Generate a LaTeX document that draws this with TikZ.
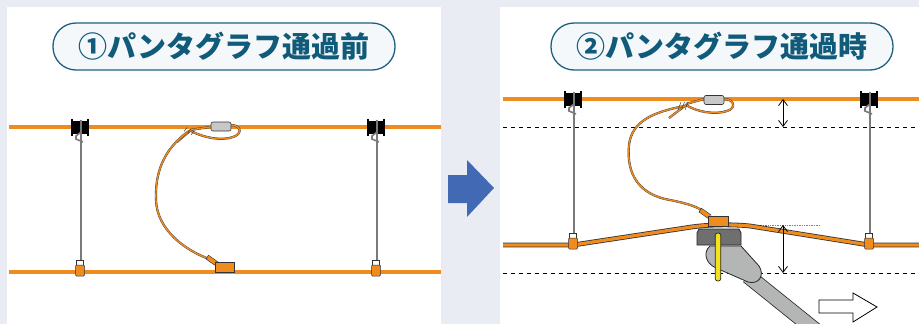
\documentclass[tikz,border=0pt]{standalone}
\usepackage{fontspec}
\newfontfamily\cjk{Noto Sans CJK JP}
\usetikzlibrary{arrows.meta}

\definecolor{pagebg}{HTML}{E9EDF3}
\definecolor{wireorange}{HTML}{EF8C1F}
\definecolor{titleblue}{HTML}{1E6080}
\definecolor{titletext}{HTML}{105A7A}
\definecolor{titlefill}{HTML}{F5F8FA}
\definecolor{hangergray}{HTML}{7A7A7A}
\definecolor{sleevegray}{HTML}{C8C8C8}
\definecolor{shoegray}{HTML}{6F6F6F}
\definecolor{armgray}{HTML}{B4B6B5}
\definecolor{stripyellow}{HTML}{F2E31E}
\definecolor{arrowblue}{HTML}{4169B4}

\begin{document}
\begin{tikzpicture}[
  x=1pt, y=-1pt,
  wire/.style     = {draw=black!80, line width=0.8pt,
                     double=wireorange, double distance=3.2pt},
  feeder/.style   = {draw=black!75, line width=0.4pt,
                     double=wireorange, double distance=1.4pt},
  dropper/.style  = {draw=hangergray, line width=2pt},
  guide/.style    = {draw=black, line width=0.9pt, dash pattern=on 4pt off 4pt},
  titlebox/.style = {draw=titleblue, line width=1.3pt, fill=titlefill,
                     rounded corners=23pt, minimum width=342pt,
                     minimum height=47pt, inner sep=0pt, text=titletext,
                     font=\cjk\bfseries\fontsize{29}{29}\selectfont},
  sleeve/.style   = {draw=black!80, fill=sleevegray, rounded corners=2pt,
                     minimum width=20pt, minimum height=9pt,
                     inner sep=0pt, line width=0.6pt},
  clampbox/.style = {draw=black!80, fill=wireorange, minimum width=20pt,
                     minimum height=10pt, inner sep=0pt, line width=0.6pt},
  gap/.style      = {{Straight Barb[length=6pt,width=9pt]}-{Straight Barb[length=6pt,width=9pt]},
                     line width=0.8pt},
]
\useasboundingbox (0,0) rectangle (919,324);
\fill[pagebg] (0,0) rectangle (919,324);
\fill[white] (7,7) rectangle (441,324);
\fill[white] (500,7) rectangle (919,324);

% titles
\node[titlebox] (titleBefore) at (224,46.5) {①パンタグラフ通過前};
\node[titlebox] (titleDuring) at (722,46.5) {②パンタグラフ通過時};

% reference levels while the pantograph lifts the wire
\draw[guide] (503,127) -- (919,127);
\draw[guide] (503,273) -- (919,273);
\draw[densely dotted, gray, line width=0.7pt] (712,225) -- (820,225);

% droppers
\foreach \hx/\ht/\hb in {80/127/272, 376/127/272, 573/99/245, 869/99/245} {
  \draw[dropper] (\hx+1,\ht+5) -- (\hx+1,\hb-11);
}

% messenger and contact wires
\draw[wire] (9,127) -- (441,127);
\draw[wire] (9,272) -- (441,272);
\draw[wire] (503,99) -- (919,99);
\draw[wire] (503,245) -- (573,245) -- (685,228)
  .. controls (705,224.5) and (730,224) .. (750,226) -- (869,245) -- (919,245);

% hanger clamps
\foreach \hx/\ht/\hb in {80/127/272, 376/127/272, 573/99/245, 869/99/245} {
  \fill[black] (\hx-7,\ht-6) rectangle (\hx+7,\ht+7);
  \fill[black] (\hx-9,\ht-8) rectangle (\hx-7,\ht+9);
  \fill[black] (\hx+7,\ht-8) rectangle (\hx+9,\ht+9);
  \draw[dropper, line width=1.6pt] (\hx+1,\ht-7) -- (\hx+1,\ht+8);
  \draw[dropper, line width=1.6pt] (\hx+1,\ht+5) -- (\hx-4,\ht+9)
    -- (\hx-4,\ht+12) -- (\hx+3,\ht+15);
  \draw[black!80, fill=white, line width=0.5pt]
    (\hx-3.5,\hb-12) rectangle (\hx+3.5,\hb-7);
  \draw[black!80, fill=wireorange, line width=0.5pt, rounded corners=1pt]
    (\hx-4.5,\hb-7) rectangle (\hx+4.5,\hb+4);
}

% feeder before
\draw[feeder] (210,127) -- (190,130);
\draw[feeder] (231,125) .. controls (241,125) and (243,134) .. (233,137)
  .. controls (222,141) and (204,138) .. (191,131);
\draw[feeder] (191,130) -- (177,142);
\draw[feeder] (189,131) .. controls (162,150) and (155,175) .. (156,200)
  .. controls (157,230) and (185,250) .. (209,259);
\foreach \kx in {185,188.5,192} {
  \draw[black!75, line width=0.5pt] (\kx-1,\kx/2+39) -- (\kx+2,\kx/2+35);
}
\node[sleeve] (sleeveBefore) at (221,126.5) {};
\draw[black!80, line width=5pt] (207,257) -- (217,264);
\draw[wireorange, line width=3.8pt] (207.6,257.4) -- (217,264);
\node[clampbox, minimum width=19pt] (clampBefore) at (224.5,267) {};

% feeder during
\draw[feeder] (704,99) -- (686,104);
\draw[feeder] (724,99) .. controls (734,99) and (737,108) .. (727,111)
  .. controls (715,115) and (697,112) .. (686,105);
\draw[feeder] (686,105) -- (669,118);
\draw[feeder] (684,106) .. controls (655,112) and (632,120) .. (629,145)
  .. controls (626,175) and (640,195) .. (670,200)
  .. controls (690,204) and (697,207) .. (703,211);
\foreach \kx in {679,682.5,686} {
  \draw[black!75, line width=0.5pt] (\kx-1,110) -- (\kx+2,102);
}
\node[sleeve] (sleeveDuring) at (714,100) {};
\draw[black!80, line width=5pt] (700,210) -- (710,217);
\draw[wireorange, line width=3.8pt] (700.6,210.4) -- (710,217);
\node[clampbox] (clampDuring) at (718,221) {};

% pantograph
\draw[draw=black!85, line width=0.8pt, double=armgray, double distance=14pt]
  (748,276) -- (845,354);
\draw[draw=black!85, fill=armgray, line width=0.8pt]
  (710,246) -- (741,246) -- (759,266)
  .. controls (765,275) and (759,285) .. (748,282) -- (716,268)
  .. controls (705,263) and (703,252) .. (710,246) -- cycle;
\draw[draw=black!85, fill=shoegray, line width=0.8pt]
  (699,229) -- (739,229) -- (741,233) -- (741,245) -- (697,245)
  -- (697,233) -- cycle;
\node[draw=black!85, fill=stripyellow, rounded corners=2.5pt, line width=0.7pt,
      minimum width=5.5pt, minimum height=48pt, inner sep=0pt]
  (strip) at (718,257) {};

% gaps
\draw[gap] (783,99) -- (783,127);
\draw[gap] (783,225) -- (783,273);

% arrows
\fill[arrowblue] (448,175) -- (467,175) -- (467,160) -- (494,188)
  -- (467,217) -- (467,203) -- (448,203) -- cycle;
\draw[black, fill=white, line width=0.8pt] (819,300) -- (853,300)
  -- (853,293) -- (877,307) -- (853,322) -- (853,313) -- (819,313) -- cycle;
\end{tikzpicture}
\end{document}
